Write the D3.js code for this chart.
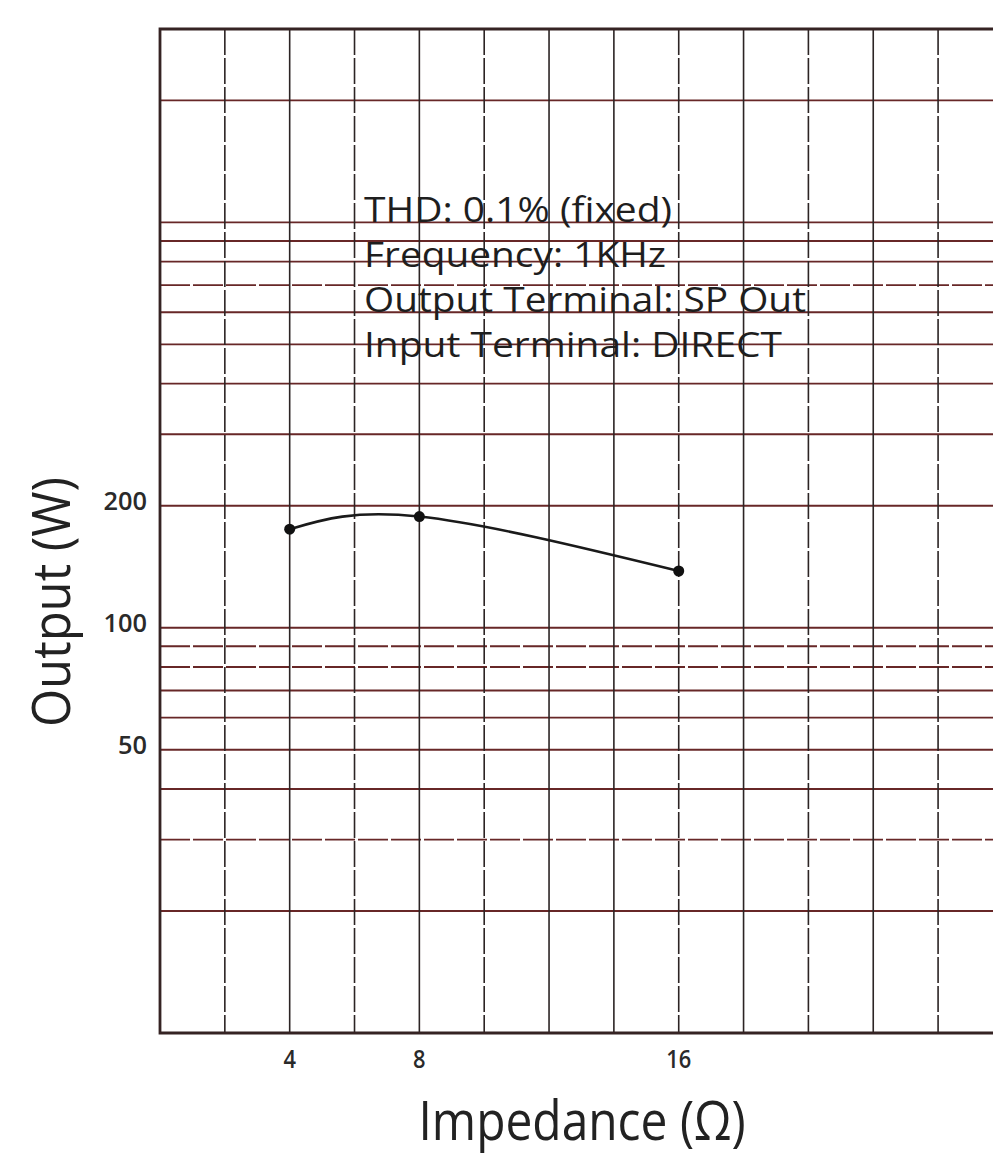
<!DOCTYPE html>
<html>
<head>
<meta charset="utf-8">
<script src="https://cdn.jsdelivr.net/npm/d3@7"></script>
<style>
  html, body { margin: 0; padding: 0; background: #ffffff; }
  svg { display: block; }
</style>
</head>
<body>
<svg id="chart" width="993" height="1159"></svg>
<script>
// Measured output power against load impedance
const impedance = [4, 8, 16];
const outputW = [175, 188, 138];

// Axis labels and grid divisions
const xTickLabels = [4, 8, 16];
const yTickLabels = [50, 100, 200];
const xGridValues = [2, 4, 6, 8, 10, 12, 14, 16, 18, 20, 22, 24, 26];
const xDashed = [2, 6, 10, 16, 20, 24];
const yGridValues = [20, 30, 40, 50, 60, 70, 80, 90, 100, 200, 300, 400, 500, 600, 700, 800, 900, 1000, 2000];
const yDashed = [30, 80, 90, 700];
const notes = ["THD: 0.1% (fixed)", "Frequency: 1KHz", "Output Terminal: SP Out", "Input Terminal: DIRECT"];

const svg = d3.select("#chart");
const W = 993, H = 1159;
svg.append("rect").attr("width", W).attr("height", H).attr("fill", "#ffffff");

const plotLeft = 160, plotTop = 29, plotBottom = 1033;
const x = d3.scaleLinear().domain([0, 26]).range([plotLeft, plotLeft + 26 * 32.42]);
const y = d3.scaleLog().domain([10, 3000]).range([plotBottom, plotTop]);

const gridH = "#672727";
const gridV = "#2c2424";
const frameC = "#352323";

const plot = svg.append("g");

// horizontal (logarithmic) rulings
plot.append("g").selectAll("line").data(yGridValues).join("line")
  .attr("x1", plotLeft).attr("x2", W + 10)
  .attr("y1", d => y(d)).attr("y2", d => y(d))
  .attr("stroke", gridH).attr("stroke-width", 1.9)
  .attr("stroke-dasharray", d => yDashed.includes(d) ? "30,3" : null);

// vertical rulings
plot.append("g").selectAll("line").data(xGridValues).join("line")
  .attr("x1", d => x(d)).attr("x2", d => x(d))
  .attr("y1", plotTop).attr("y2", plotBottom)
  .attr("stroke", gridV).attr("stroke-width", 1.6)
  .attr("stroke-dasharray", d => xDashed.includes(d) ? "26,3" : null);

// frame (open on the right, running past the page edge)
plot.append("path")
  .attr("d", `M${W + 10},${y(3000)}H${x(0)}V${y(10)}H${W + 10}`)
  .attr("fill", "none").attr("stroke", frameC).attr("stroke-width", 2.8);

// tick labels, narrow and heavy
const tickFont = "'Open Sans', sans-serif";
svg.append("g").selectAll("text").data(yTickLabels).join("text")
  .attr("x", 147).attr("y", d => y(d) + 4)
  .attr("text-anchor", "end")
  .attr("font-family", tickFont).attr("font-size", 25).attr("font-weight", 600)
  .attr("fill", "#2a2a2a")
  .attr("textLength", d => String(d).length * 14.5)
  .attr("lengthAdjust", "spacingAndGlyphs")
  .text(d => d);

svg.append("g").selectAll("text").data(xTickLabels).join("text")
  .attr("x", d => x(d)).attr("y", 1068)
  .attr("text-anchor", "middle")
  .attr("font-family", tickFont).attr("font-size", 25).attr("font-weight", 600)
  .attr("fill", "#2a2a2a")
  .attr("textLength", d => String(d).length * 12.5)
  .attr("lengthAdjust", "spacingAndGlyphs")
  .text(d => d);

// measurement curve
const line = d3.line()
  .x((d, i) => x(impedance[i]))
  .y(d => y(d))
  .curve(d3.curveNatural);
svg.append("path").datum(outputW)
  .attr("d", line)
  .attr("fill", "none").attr("stroke", "#1a1a1a").attr("stroke-width", 2.6);

svg.append("g").selectAll("circle").data(outputW).join("circle")
  .attr("cx", (d, i) => x(impedance[i])).attr("cy", d => y(d))
  .attr("r", 5.5).attr("fill", "#111");

// test conditions
const noteWidths = [308, 302, 442, 418];
svg.append("g").selectAll("text").data(notes).join("text")
  .attr("x", 364).attr("y", (d, i) => 222 + i * 45)
  .attr("font-family", "'Open Sans', sans-serif").attr("font-size", 35)
  .attr("fill", "#1e1e1e")
  .attr("textLength", (d, i) => noteWidths[i])
  .attr("lengthAdjust", "spacingAndGlyphs")
  .text(d => d);

// axis titles
svg.append("text")
  .attr("transform", "translate(70,602) rotate(-90)")
  .attr("text-anchor", "middle")
  .attr("font-family", "'Open Sans', sans-serif").attr("font-size", 53)
  .attr("fill", "#222")
  .attr("textLength", 250).attr("lengthAdjust", "spacingAndGlyphs")
  .text("Output (W)");

svg.append("text")
  .attr("x", 582).attr("y", 1140)
  .attr("text-anchor", "middle")
  .attr("font-family", "'Open Sans', sans-serif").attr("font-size", 54)
  .attr("fill", "#222")
  .attr("textLength", 327).attr("lengthAdjust", "spacingAndGlyphs")
  .text("Impedance (Ω)");
</script>
</body>
</html>
